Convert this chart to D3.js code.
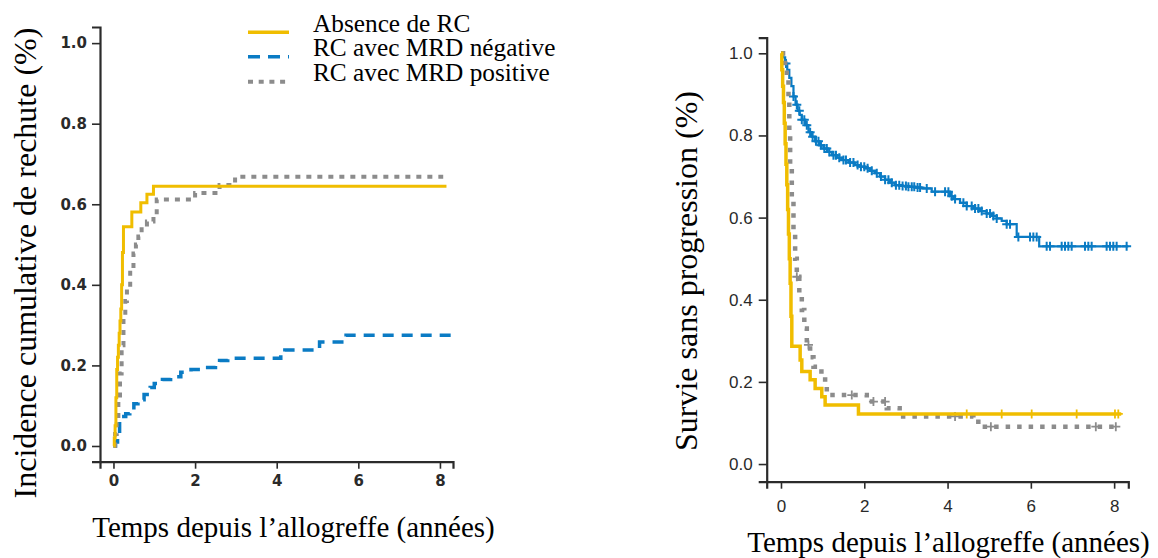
<!DOCTYPE html>
<html><head><meta charset="utf-8">
<script src="https://cdn.jsdelivr.net/npm/d3@7/dist/d3.min.js"></script>
<style>
html,body{margin:0;padding:0;background:#fff;}
svg{display:block;}
</style></head>
<body>
<svg id="chart" width="1158" height="558"></svg>
<script>
// ---------- DATA ----------
const seriesNames = ["Absence de RC", "RC avec MRD négative", "RC avec MRD positive"];
const xTicks = [0, 2, 4, 6, 8];
const yTicks = [0, 0.2, 0.4, 0.6, 0.8, 1.0];
const yTickLabels = ["0.0", "0.2", "0.4", "0.6", "0.8", "1.0"];

// Left panel: cumulative incidence of relapse
const ciAbsT = [0, 0.02, 0.04, 0.06, 0.08, 0.10, 0.12, 0.14, 0.16, 0.18, 0.20, 0.22, 0.245, 0.45, 0.67, 0.82, 0.98, 8.16];
const ciAbsV = [0, 0.02, 0.05, 0.12, 0.19, 0.22, 0.25, 0.28, 0.31, 0.34, 0.40, 0.48, 0.544, 0.581, 0.604, 0.625, 0.645, 0.645];

const ciNegT = [0, 0.05, 0.10, 0.15, 0.20, 0.30, 0.40, 0.50, 0.60, 0.75, 0.90, 1.00, 1.20, 1.40, 1.65, 1.90, 2.15, 2.50, 2.60, 2.80, 4.10, 4.20, 5.05, 5.70, 8.33];
const ciNegV = [0, 0.01, 0.03, 0.06, 0.073, 0.08, 0.09, 0.105, 0.115, 0.128, 0.145, 0.155, 0.165, 0.172, 0.183, 0.19, 0.195, 0.207, 0.212, 0.218, 0.232, 0.238, 0.258, 0.275, 0.275];

const ciPosT = [0, 0.04, 0.08, 0.12, 0.16, 0.20, 0.245, 0.29, 0.33, 0.41, 0.49, 0.55, 0.61, 0.69, 0.82, 0.98, 1.06, 2.00, 2.60, 2.98, 8.08];
const ciPosV = [0, 0.03, 0.065, 0.12, 0.18, 0.25, 0.32, 0.36, 0.395, 0.437, 0.478, 0.50, 0.52, 0.544, 0.557, 0.573, 0.612, 0.628, 0.648, 0.668, 0.668];

// Right panel: progression-free survival
const pfsAbsT = [0, 0.02, 0.04, 0.06, 0.08, 0.10, 0.12, 0.14, 0.16, 0.18, 0.20, 0.22, 0.24, 0.26, 0.46, 0.50, 0.70, 0.82, 0.98, 1.06, 1.86, 8.17];
const pfsAbsV = [1, 0.96, 0.92, 0.88, 0.83, 0.78, 0.73, 0.68, 0.62, 0.56, 0.50, 0.44, 0.36, 0.287, 0.253, 0.225, 0.205, 0.184, 0.164, 0.144, 0.122, 0.122];
const pfsAbsCens = [4.46, 5.30, 6.02, 7.10, 8.02, 8.10];

const pfsNegT = [0, 0.05, 0.10, 0.15, 0.20, 0.25, 0.30, 0.35, 0.40, 0.45, 0.50, 0.58, 0.66, 0.74, 0.82, 0.92, 1.02, 1.12, 1.22, 1.34, 1.46, 1.62, 1.78, 1.90, 2.02, 2.14, 2.26, 2.38, 2.50, 2.62, 2.74, 2.90, 3.06, 3.22, 3.38, 3.62, 4.06, 4.14, 4.30, 4.46, 4.62, 4.78, 4.94, 5.06, 5.18, 5.30, 5.42, 5.66, 6.20, 8.34];
const pfsNegV = [1, 0.99, 0.975, 0.96, 0.94, 0.92, 0.895, 0.875, 0.86, 0.85, 0.838, 0.825, 0.808, 0.797, 0.786, 0.776, 0.768, 0.76, 0.752, 0.746, 0.74, 0.734, 0.728, 0.724, 0.72, 0.714, 0.708, 0.70, 0.692, 0.685, 0.679, 0.677, 0.675, 0.673, 0.671, 0.663, 0.652, 0.645, 0.636, 0.628, 0.622, 0.616, 0.61, 0.604, 0.598, 0.592, 0.584, 0.553, 0.53, 0.53];
const pfsNegCens = [0.12, 0.30, 0.38, 0.44, 0.50, 0.56, 0.62, 0.70, 0.76, 0.84, 0.90, 0.96, 1.04, 1.10, 1.16, 1.26, 1.32, 1.40, 1.50, 1.56, 1.66, 1.74, 1.84, 1.92, 2.00, 2.08, 2.18, 2.30, 2.40, 2.50, 2.58, 2.66, 2.76, 2.84, 2.92, 3.00, 3.06, 3.14, 3.20, 3.28, 3.34, 3.50, 3.70, 3.94, 4.02, 4.10, 4.18, 4.38, 4.46, 4.58, 4.66, 4.74, 4.82, 4.94, 5.02, 5.10, 5.18, 5.42, 5.50, 5.70, 5.98, 6.06, 6.14, 6.38, 6.46, 6.74, 6.82, 6.90, 6.98, 7.30, 7.38, 7.46, 7.82, 7.90, 7.98, 8.06, 8.30];

const pfsPosT = [0, 0.05, 0.10, 0.14, 0.18, 0.20, 0.22, 0.26, 0.30, 0.34, 0.38, 0.44, 0.50, 0.56, 0.62, 0.70, 0.78, 0.90, 1.06, 1.10, 2.06, 2.54, 2.85, 4.62, 4.80, 8.10];
const pfsPosV = [1, 0.99, 0.97, 0.94, 0.886, 0.80, 0.724, 0.64, 0.562, 0.50, 0.456, 0.41, 0.375, 0.33, 0.29, 0.26, 0.237, 0.225, 0.20, 0.168, 0.152, 0.136, 0.116, 0.103, 0.091, 0.091];
const pfsPosCens = [0.38, 0.66, 1.70, 2.22, 2.50, 4.18, 5.04, 7.56, 8.04];

const leftYTitle = "Incidence cumulative de rechute (%)";
const rightYTitle = "Survie sans progression (%)";
const xTitle = "Temps depuis l\u2019allogreffe (années)";

// ---------- STYLE ----------
const YELLOW = "#f0bd00", BLUE = "#0a7bc4", GRAY = "#8c8c8c", AXIS = "#2b2b2b";
const serif = "'Liberation Serif','Times New Roman',serif";

const svg = d3.select("#chart");

function drawAxes(g, x, y, opts) {
  const ax = g.append("g").attr("transform", `translate(0,${y.range()[0]})`)
    .call(d3.axisBottom(x).tickValues(xTicks).tickFormat(d3.format("d")).tickSizeOuter(0).tickSize(7).tickPadding(opts.xPad));
  const ay = g.append("g").attr("transform", `translate(${x.range()[0]},0)`)
    .call(d3.axisLeft(y).tickValues(yTicks).tickFormat((d, i) => yTickLabels[i]).tickSizeOuter(0).tickSize(8).tickPadding(opts.yPad));
  [ax, ay].forEach(a => {
    a.select(".domain").attr("stroke", AXIS).attr("stroke-width", 2.2);
    a.selectAll(".tick line").attr("stroke", AXIS).attr("stroke-width", 1.6);
    a.selectAll(".tick text").attr("fill", "#2a2a2a")
      .style("font-family", opts.font).style("font-size", opts.size + "px")
      .style("font-weight", opts.weight);
  });
}

function stepPath(g, x, y, T, V, color, width, dash) {
  const pts = T.map((t, i) => [t, V[i]]);
  g.append("path").datum(pts)
    .attr("fill", "none").attr("stroke", color).attr("stroke-width", width)
    .attr("stroke-dasharray", dash || null)
    .attr("d", d3.line().x(d => x(d[0])).y(d => y(d[1])).curve(d3.curveStepAfter));
}

function censor(g, x, y, T, V, cens, color, size, width) {
  const valAt = t => { let v = V[0]; for (let i = 0; i < T.length; i++) { if (T[i] <= t) v = V[i]; } return v; };
  g.selectAll(null).data(cens).enter().append("path")
    .attr("fill", "none").attr("stroke", color).attr("stroke-width", width)
    .attr("d", t => { const cx = x(t), cy = y(valAt(t)), h = size / 2;
      return `M${cx - h},${cy}H${cx + h}M${cx},${cy - h}V${cy + h}`; });
}

// ---------- LEFT PANEL ----------
const xL = d3.scaleLinear().domain([-0.33, 8.32]).range([100, 453]);
const yL = d3.scaleLinear().domain([-0.039, 1.04]).range([461.7, 27]);
const gL = svg.append("g");
drawAxes(gL, xL, yL, { font: "'DejaVu Sans',sans-serif", size: 15, weight: "bold", xPad: 7, yPad: 5 });
stepPath(gL, xL, yL, ciNegT, ciNegV, BLUE, 3.5, "11,8");
stepPath(gL, xL, yL, ciPosT, ciPosV, GRAY, 4, "5,6");
stepPath(gL, xL, yL, ciAbsT, ciAbsV, YELLOW, 3);

gL.append("text").attr("transform", "translate(36,263) rotate(-90)")
  .attr("text-anchor", "middle").style("font-family", serif).style("font-size", "32px").attr("fill", "#000").text(leftYTitle);
gL.append("text").attr("x", 293.5).attr("y", 536.5)
  .attr("text-anchor", "middle").style("font-family", serif).style("font-size", "29px").attr("fill", "#000").text(xTitle);

// legend
const legColors = [YELLOW, BLUE, GRAY];
const legDash = [null, "12,8", "5,5.7"];
const legWidth = [3.5, 3.5, 4];
const legY = [32.3, 56.7, 81.7];
const leg = gL.append("g");
seriesNames.forEach((name, i) => {
  leg.append("line").attr("x1", 248).attr("x2", 289).attr("y1", legY[i]).attr("y2", legY[i])
    .attr("stroke", legColors[i]).attr("stroke-width", legWidth[i]).attr("stroke-dasharray", legDash[i]);
  leg.append("text").attr("x", 313).attr("y", legY[i] - 0.5)
    .style("font-family", serif).style("font-size", "25.3px").attr("fill", "#000").text(name);
});

// ---------- RIGHT PANEL ----------
const xR = d3.scaleLinear().domain([-0.343, 8.34]).range([766.7, 1128.3]);
const yR = d3.scaleLinear().domain([-0.043, 1.038]).range([481.7, 37.7]);
const gR = svg.append("g");
drawAxes(gR, xR, yR, { font: "'Liberation Sans',Arial,sans-serif", size: 17, weight: "normal", xPad: 11, yPad: 6 });
stepPath(gR, xR, yR, pfsNegT, pfsNegV, BLUE, 2.2);
censor(gR, xR, yR, pfsNegT, pfsNegV, pfsNegCens, BLUE, 9, 2);
stepPath(gR, xR, yR, pfsPosT, pfsPosV, GRAY, 4.5, "4.5,7");
censor(gR, xR, yR, pfsPosT, pfsPosV, pfsPosCens, GRAY, 9, 1.8);
stepPath(gR, xR, yR, pfsAbsT, pfsAbsV, YELLOW, 3.5);
censor(gR, xR, yR, pfsAbsT, pfsAbsV, pfsAbsCens, YELLOW, 9, 1.8);

gR.append("text").attr("transform", "translate(697,271) rotate(-90)")
  .attr("text-anchor", "middle").style("font-family", serif).style("font-size", "32px").attr("fill", "#000").text(rightYTitle);
gR.append("text").attr("x", 948.5).attr("y", 552)
  .attr("text-anchor", "middle").style("font-family", serif).style("font-size", "29px").attr("fill", "#000").text(xTitle);
</script>
</body></html>
